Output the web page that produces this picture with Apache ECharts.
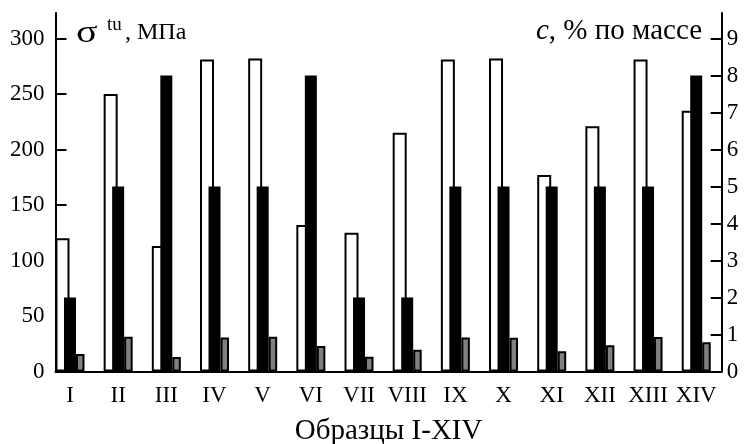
<!DOCTYPE html>
<html><head><meta charset="utf-8">
<script src="https://cdn.jsdelivr.net/npm/echarts@6/dist/echarts.min.js"></script>
<style>html,body{margin:0;padding:0;background:#fff}#c{width:747px;height:444px}</style>
</head><body><div id="c"></div>
<script>
// ---- data ----
const categories = ['I','II','III','IV','V','VI','VII','VIII','IX','X','XI','XII','XIII','XIV'];
const sigmaTu = [120, 250, 113, 281, 282, 132, 125, 215, 281, 282, 177, 221, 281, 235]; // MPa, left axis
const cBlack  = [2, 5, 8, 5, 5, 8, 2, 2, 5, 5, 5, 5, 5, 8];                              // %, right axis
const cGray   = [0.47, 0.94, 0.39, 0.92, 0.94, 0.69, 0.40, 0.59, 0.92, 0.91, 0.55, 0.71, 0.93, 0.79]; // %, right axis
const leftTicks  = [0, 50, 100, 150, 200, 250, 300];
const rightTicks = [0, 1, 2, 3, 4, 5, 6, 7, 8, 9];
const leftMax = 323;
const rightMax = leftMax * 9 / 300;

const FONT = 'Liberation Serif';
const chart = echarts.init(document.getElementById('c'), null, {renderer: 'canvas'});

const gridTop = 13, gridBottom = 72.5;
const option = {
  animation: false,
  backgroundColor: '#fff',
  grid: [
    {left: 45.9, right: 26.7, top: gridTop, bottom: gridBottom, containLabel: false, outerBoundsMode: 'none'},  // bars
    {left: 55.5, right: 25.3, top: gridTop, bottom: gridBottom, containLabel: false, outerBoundsMode: 'none'}   // frame axes
  ],
  xAxis: [
    {gridIndex: 0, type: 'category', data: categories,
     axisLine: {show: false}, axisTick: {show: false}, splitLine: {show: false},
     axisLabel: {interval: 0, color: '#000', fontFamily: FONT, fontSize: 23, margin: 13}},
    {gridIndex: 0, type: 'category', data: categories, show: false},
    {gridIndex: 1, type: 'value', min: 0, max: 1,
     axisLine: {show: true, onZero: false, lineStyle: {color: '#000', width: 2}},
     axisTick: {show: false}, axisLabel: {show: false}, splitLine: {show: false},
     name: 'Образцы I-XIV', nameLocation: 'middle', nameGap: 45,
     nameTextStyle: {color: '#000', fontFamily: FONT, fontSize: 29}}
  ],
  yAxis: [
    {gridIndex: 0, type: 'value', min: 0, max: leftMax, show: false},
    {gridIndex: 0, type: 'value', min: 0, max: rightMax, show: false},
    {gridIndex: 1, type: 'value', position: 'left', min: 0, max: leftMax,
     axisLine: {show: true, lineStyle: {color: '#000', width: 2}},
     axisTick: {show: true, inside: true, length: 11, customValues: leftTicks, lineStyle: {color: '#000', width: 2}},
     axisLabel: {show: true, customValues: leftTicks, color: '#000', fontFamily: FONT, fontSize: 23, margin: 11},
     splitLine: {show: false}},
    {gridIndex: 1, type: 'value', position: 'right', min: 0, max: rightMax,
     axisLine: {show: true, lineStyle: {color: '#000', width: 2}},
     axisTick: {show: true, inside: true, length: 11, customValues: rightTicks, lineStyle: {color: '#000', width: 2}},
     axisLabel: {show: true, customValues: rightTicks, color: '#000', fontFamily: FONT, fontSize: 23, margin: 5},
     splitLine: {show: false}}
  ],
  series: [
    {name: 'σtu', type: 'bar', xAxisIndex: 0, yAxisIndex: 0, data: sigmaTu,
     barWidth: 14, barGap: '46.43%', z: 2, silent: true,
     itemStyle: {color: '#fff', borderColor: '#000', borderWidth: 2}},
    {name: 'c2', type: 'bar', xAxisIndex: 0, yAxisIndex: 1, data: cGray,
     barWidth: 8.5, barGap: '46.43%', z: 2, silent: true,
     itemStyle: {color: '#808080', borderColor: '#000', borderWidth: 2}},
    {name: 'c1', type: 'bar', xAxisIndex: 1, yAxisIndex: 1, data: cBlack,
     barWidth: 12, z: 3, silent: true,
     itemStyle: {color: '#000'}}
  ],
  graphic: [
    {type: 'text', x: 76, y: 34, scaleX: 1.25, z: 10, silent: true,
     style: {text: 'σ', font: "32px 'Liberation Serif'", fill: '#000', align: 'left', verticalAlign: 'middle'}},
    {type: 'text', left: 107, top: 16, z: 10, silent: true,
     style: {text: 'tu', font: "19px 'Liberation Serif'", fill: '#000'}},
    {type: 'text', left: 125, top: 21, z: 10, silent: true,
     style: {text: ', МПа', font: "24px 'Liberation Serif'", fill: '#000'}},
    {type: 'text', right: 45, top: 17, z: 10, silent: true,
     style: {text: '{i|c}{n|, % по массе}', fill: '#000',
       rich: {i: {fontFamily: FONT, fontSize: 29, fontStyle: 'italic', fill: '#000'},
              n: {fontFamily: FONT, fontSize: 29, fill: '#000'}}}}
  ]
};
chart.setOption(option);
</script>
</body></html>
